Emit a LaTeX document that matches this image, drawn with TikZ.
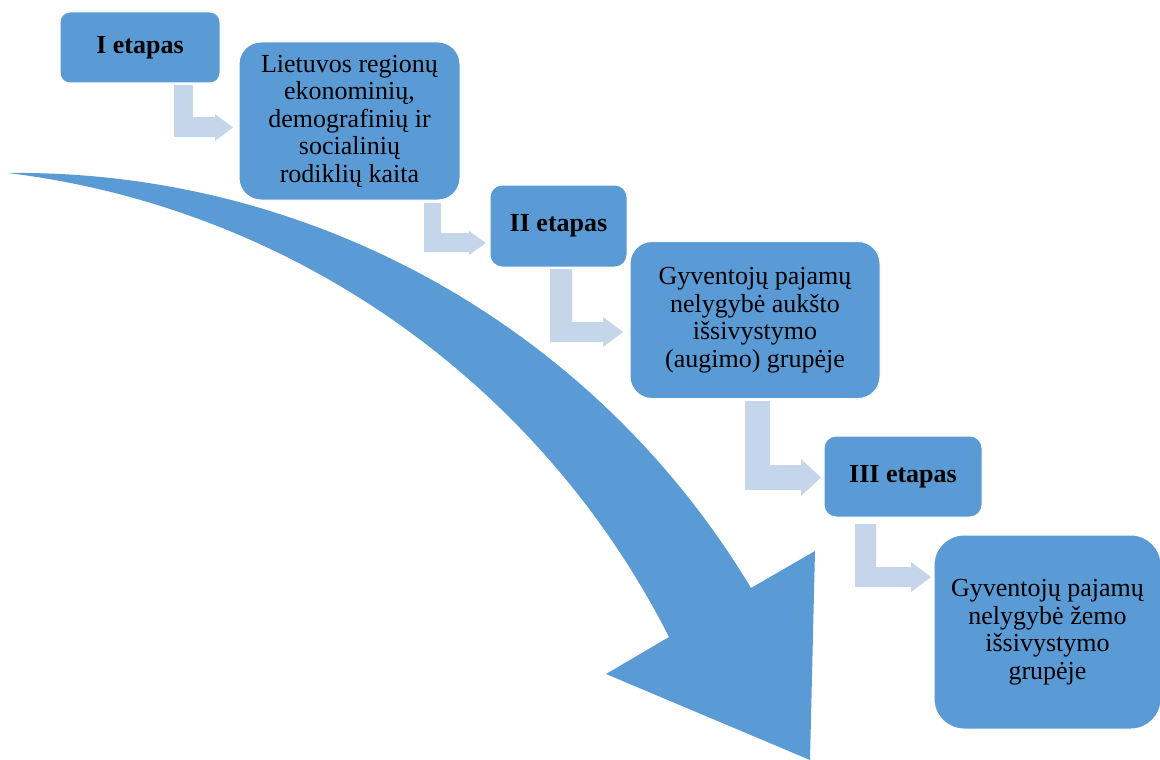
\documentclass[tikz,border=0pt]{standalone}
\usepackage{fontspec}
\setmainfont{Liberation Serif}
\definecolor{boxblue}{HTML}{5B9BD5}
\definecolor{lightblue}{HTML}{C5D5EA}
\tikzset{
  stagebox/.style={draw=white, line width=1pt, fill=boxblue, inner sep=0pt, align=center,
    font=\fontsize{26}{27.5}\selectfont, text=black},
  bentarrow/.style={fill=lightblue, draw=none},
  bigarrow/.style={fill=boxblue, draw=none}
}
\begin{document}
\begin{tikzpicture}[x=1pt,y=-1pt]
\useasboundingbox (0,0) rectangle (1160,760);
\clip (0,0) rectangle (1160,760);

% big curved arrow
\draw[bigarrow] (8,173) .. controls (311.5,169.6) and (594.2,327.1) .. (751,588)
  -- (815,551) -- (810,760) -- (606,674) -- (669,637)
  .. controls (539.4,381.8) and (291.7,207.7) .. (8,173) -- cycle;

% bent arrows
\fill[bentarrow] (174,85) -- (193,85) -- (193,117) -- (215,117) -- (215,114) -- (233,127.5) -- (215,141) -- (215,137) -- (174,137) -- cycle;
\fill[bentarrow] (424,203) -- (441,203) -- (441,233) -- (469,233) -- (469,231) -- (486,243) -- (469,255) -- (469,252) -- (424,252) -- cycle;
\fill[bentarrow] (550,269) -- (572,269) -- (572,322) -- (603,322) -- (603,317) -- (623,332) -- (603,347) -- (603,342) -- (550,342) -- cycle;
\fill[bentarrow] (745,401) -- (770,401) -- (770,465) -- (801,465) -- (801,459) -- (821,477.5) -- (801,496) -- (801,490) -- (745,490) -- cycle;
\fill[bentarrow] (855,524) -- (876,524) -- (876,567) -- (911,567) -- (911,562) -- (931,577) -- (911,592) -- (911,587) -- (855,587) -- cycle;

% boxes
\node[stagebox, rounded corners=10pt, minimum width=160pt, minimum height=71pt] (s1) at (140,47.5) {\textbf{I etapas}};
\node[stagebox, rounded corners=22pt, minimum width=221pt, minimum height=158pt] (b1) at (349.5,121) {Lietuvos regionų\\ekonominių,\\demografinių ir\\socialinių\\rodiklių kaita};
\node[stagebox, rounded corners=12pt, minimum width=137pt, minimum height=82pt] (s2) at (558.5,226) {\textbf{II etapas}};
\node[stagebox, rounded corners=22pt, minimum width=250pt, minimum height=157pt] (b2) at (755,320) {Gyventojų pajamų\\nelygybė aukšto\\išsivystymo\\(augimo) grupėje};
\node[stagebox, rounded corners=12pt, minimum width=158pt, minimum height=81pt] (s3) at (903,476.5) {\textbf{III etapas}};
\node[stagebox, rounded corners=30pt, minimum width=227pt, minimum height=194pt] (b3) at (1047.5,632) {Gyventojų pajamų\\nelygybė žemo\\išsivystymo\\grupėje};
\end{tikzpicture}
\end{document}
